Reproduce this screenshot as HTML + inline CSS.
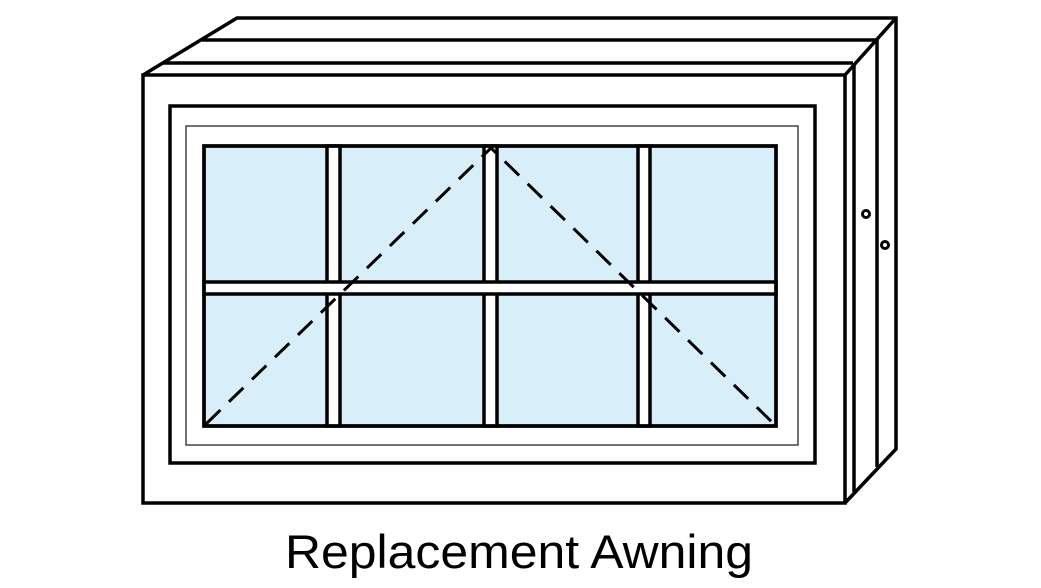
<!DOCTYPE html>
<html><head><meta charset="utf-8"><style>html,body{margin:0;padding:0;background:#fff;}svg{display:block}</style></head>
<body>
<svg width="1041" height="588" viewBox="0 0 1041 588" xmlns="http://www.w3.org/2000/svg">
<g fill="none" stroke="#000" stroke-width="3.5" stroke-linejoin="miter">
  <polyline points="143,75 237,18 896,18 896,449 845,503" fill="#fff"/>
  <line x1="202" y1="40" x2="877" y2="40"/>
  <line x1="163" y1="63" x2="853" y2="63"/>
  <line x1="877" y1="40" x2="877" y2="467"/>
  <line x1="854" y1="63" x2="854" y2="492"/>
  <line x1="845" y1="75" x2="896" y2="18"/>
  <rect x="143" y="75" width="702" height="428" fill="#fff"/>
  <rect x="170" y="106" width="645" height="357"/>
  <rect x="186" y="126" width="612" height="319" stroke="#444" stroke-width="1.5"/>
  <rect x="204" y="146" width="572" height="280" fill="#d8eef8"/>
  <rect x="327" y="146" width="13" height="280" fill="#fff"/>
  <rect x="484" y="146" width="13" height="280" fill="#fff"/>
  <rect x="638" y="146" width="12" height="280" fill="#fff"/>
  <rect x="204" y="282" width="572" height="12" fill="#fff"/>
  <rect x="204" y="146" width="572" height="280"/>
  <polyline points="206,424 491,148 774,424" stroke-dasharray="20,12" stroke-width="3"/>
  <circle cx="866" cy="214" r="3.5" stroke-width="3"/>
  <circle cx="885" cy="245" r="3.5" stroke-width="3"/>
</g>
<text x="285" y="568" font-family="'Liberation Sans', sans-serif" font-size="47" textLength="468" lengthAdjust="spacingAndGlyphs" fill="#000">Replacement Awning</text>
</svg>
</body></html>
